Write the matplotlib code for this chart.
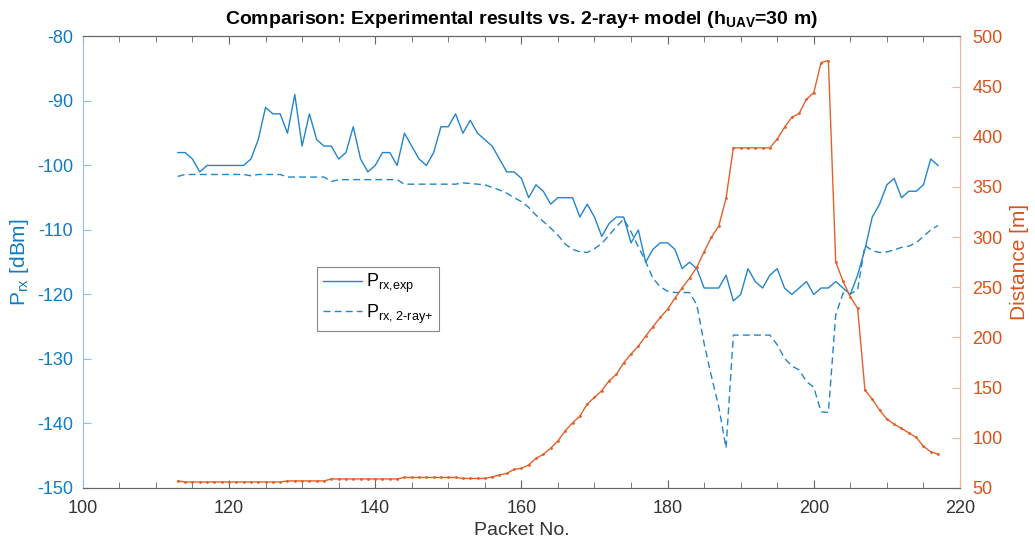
import numpy as np
import matplotlib
matplotlib.use("Agg")
import matplotlib.pyplot as plt
from matplotlib.ticker import MultipleLocator

plt.rcParams["font.family"] = ["Liberation Sans", "DejaVu Sans"]
plt.rcParams["mathtext.fontset"] = "custom"
plt.rcParams["mathtext.rm"] = "Liberation Sans"
plt.rcParams["mathtext.it"] = "Liberation Sans"
plt.rcParams["mathtext.bf"] = "Liberation Sans:bold"
plt.rcParams["axes.unicode_minus"] = False

# packet numbers 113 ... 217
packets = np.arange(113, 218)

p_exp = [
    -98, -98, -99, -101, -100, -100, -100, -100, -100, -100,
    -99, -96, -91, -92, -92, -95, -89, -97, -92, -96,
    -97, -97, -99, -98, -94, -99, -101, -100, -98, -98,
    -100, -95, -97, -99, -100, -98, -94, -94, -92, -95,
    -93, -95, -96, -97, -99, -101, -101, -102, -105, -103,
    -104, -106, -105, -105, -105, -108, -106, -108, -111, -109,
    -108, -108, -112, -110, -115, -113, -112, -112, -113, -116,
    -115, -116, -119, -119, -119, -117, -121, -120, -116, -118,
    -119, -117, -116, -119, -120, -119, -118, -120, -119, -119,
    -118, -119, -120, -117, -113, -108, -106, -103, -102, -105,
    -104, -104, -103, -99, -100,
]

p_model = (
    [-101.7] + [-101.4] * 9 + [-101.6] + [-101.4] * 4 + [-101.8] * 6
    + [-102.5] + [-102.2] * 9 + [-102.9] * 8
    + [-102.7, -102.8, -102.9, -103.0, -103.4, -103.8, -104.3, -105.0,
       -105.6, -106.5, -107.7, -108.7, -109.7, -110.8, -112.2, -113.0,
       -113.4, -113.5, -112.9, -112.1, -110.8, -109.5, -108.3, -110.3,
       -112.6, -114.9, -117.5, -118.8, -119.5, -119.7, -119.7, -119.7,
       -121.6, -127.6, -132.7, -137.4, -143.8]
    + [-126.3] * 6
    + [-127.8, -129.9, -131.1, -131.7, -133.5, -134.4, -138.2, -138.3,
       -123.2, -119.8, -119.9, -119.3, -112.4, -113.2, -113.5, -113.4,
       -113.1, -112.7, -112.5, -112.0, -111.0, -110.0, -109.3]
)

distance = (
    [57] + [56] * 14 + [57] * 6 + [59] * 10 + [60.5] * 8 + [59.5] * 4
    + [61, 63, 64.5, 68.5, 69.5, 73, 79.5, 83.5, 89.5, 97, 107, 115,
       121.6, 133.6, 140.3, 147, 156.8, 163.3, 174.8, 183.5, 191.4, 201.4,
       210.7, 220, 228, 239, 249.6, 259, 270, 285.5, 300, 311, 338.7]
    + [389] * 6
    + [397.8, 409.5, 419.4, 423.4, 437.4, 444, 474, 476, 275.5, 256,
       240.6, 229, 147.6, 138.6, 127.6, 118.6, 113.6, 109.4, 105, 100.4,
       91.7, 86, 83.8]
)

blue = "#0f7bc4"
line_blue = "#2285cb"
orange = "#D95319"
line_orange = "#e2612a"

fig = plt.figure(figsize=(10.35, 5.44), dpi=100)
ax = fig.add_axes([0.080, 0.103, 0.8475, 0.830])
ax2 = ax.twinx()

l1, = ax.plot(packets, p_exp, color=line_blue, lw=1.0, label=r"P$_{\text{rx,exp}}$")
l2, = ax.plot(packets, p_model, color=line_blue, lw=1.0, ls=(0, (5, 3)),
              label=r"P$_{\text{rx, 2-ray+}}$")
ax2.plot(packets, distance, color=line_orange, lw=1.0, marker=".", ms=2)

ax.set_xlim(100, 220)
ax.set_ylim(-150, -80)
ax2.set_ylim(50, 500)
ax.xaxis.set_major_locator(MultipleLocator(20))
ax.xaxis.set_minor_locator(MultipleLocator(5))
ax.yaxis.set_major_locator(MultipleLocator(10))
ax2.yaxis.set_major_locator(MultipleLocator(50))

for a in (ax, ax2):
    for s in ("top", "bottom"):
        a.spines[s].set_color("#666666")
        a.spines[s].set_linewidth(0.8)
ax.spines["left"].set_color("#8cc0e8")
ax.spines["right"].set_visible(False)
ax2.spines["left"].set_visible(False)
ax2.spines["right"].set_color("#f0b49a")

ax.tick_params(axis="x", which="both", direction="in", top=True,
               colors="#666666", labelcolor="#333333", labelsize=13, pad=9)
ax.tick_params(axis="x", which="major", length=6)
ax.tick_params(axis="x", which="minor", length=4)
ax.tick_params(axis="y", direction="in", length=6, color="#8cc0e8",
               labelcolor=blue, labelsize=13, pad=7)
ax2.tick_params(axis="y", direction="in", length=6, color="#f0b49a",
                labelcolor=orange, labelsize=13, pad=9)

ax.set_xlabel("Packet No.", fontsize=14, color="#333333", labelpad=3)
ax.set_ylabel(r"P$_{\text{rx}}$ [dBm]", fontsize=15, color=blue, labelpad=4)
ax2.set_ylabel("Distance [m]", fontsize=15, color=orange, labelpad=5)
ax.set_title(r"Comparison: Experimental results vs. 2-ray+ model (h$_{\mathbf{UAV}}$=30 m)",
             fontsize=14, fontweight="bold", pad=9)

leg = ax.legend(handles=[l1, l2], loc="upper left",
                bbox_to_anchor=(0.257, 0.51), fontsize=13,
                fancybox=False, edgecolor="#888888", framealpha=1,
                handlelength=2.2, borderpad=0.3, labelspacing=0.4,
                handletextpad=0.2)
leg.get_frame().set_linewidth(0.8)

fig.savefig("out.png", dpi=100)
